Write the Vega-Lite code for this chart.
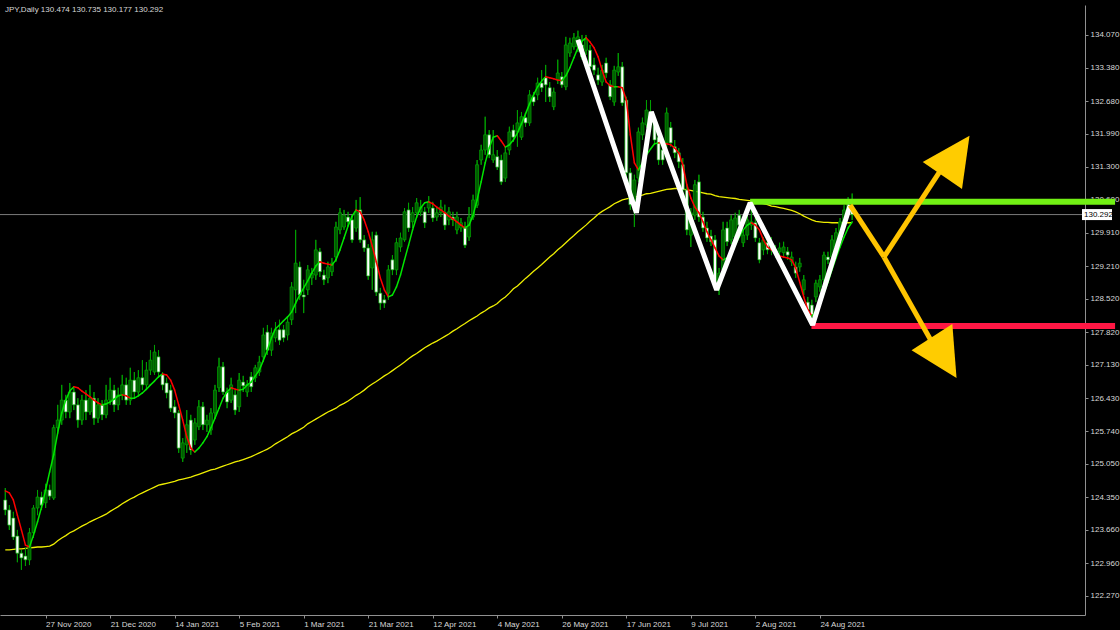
{
"$schema":"https://vega.github.io/schema/vega-lite/v6.json",
"width":1085,"height":610,
"autosize":{"type":"none"},
"padding":{"left":0,"top":5,"right":35,"bottom":15},
"background":"#000000",
"config":{"view":{"stroke":null},"axis":{"grid":false,"tickColor":"#909090","domainColor":"#909090","labelColor":"#d8d8d8","labelFont":"Liberation Sans","labelFontSize":8,"tickSize":3,"labelPadding":2,"labelOverlap":false,"labelFlush":false,"labelBound":false}},
"datasets":{
"bars":[
{"i":0,"o":124.29,"h":124.54,"l":123.97,"c":124.08,"m":124.48,"s":123.24},
{"i":1,"o":124.08,"h":124.18,"l":123.66,"c":123.76,"m":124.44,"s":123.24},
{"i":2,"o":123.91,"h":124.04,"l":123.45,"c":123.51,"m":124.29,"s":123.25},
{"i":3,"o":123.53,"h":123.66,"l":122.98,"c":123.17,"m":123.97,"s":123.26},
{"i":4,"o":123.17,"h":123.24,"l":122.82,"c":123.07,"m":123.66,"s":123.26},
{"i":5,"o":123.11,"h":123.28,"l":122.90,"c":123.03,"m":123.34,"s":123.27},
{"i":6,"o":123.03,"h":123.70,"l":122.92,"c":123.60,"m":123.30,"s":123.28},
{"i":7,"o":123.60,"h":124.18,"l":123.49,"c":124.12,"m":123.55,"s":123.29},
{"i":8,"o":124.12,"h":124.50,"l":123.97,"c":124.35,"m":123.83,"s":123.30},
{"i":9,"o":124.35,"h":124.46,"l":124.08,"c":124.18,"m":124.14,"s":123.30},
{"i":10,"o":124.23,"h":124.63,"l":124.12,"c":124.50,"m":124.50,"s":123.31},
{"i":11,"o":124.50,"h":124.61,"l":124.29,"c":124.37,"m":124.88,"s":123.32},
{"i":12,"o":124.33,"h":125.87,"l":124.29,"c":125.81,"m":125.24,"s":123.36},
{"i":13,"o":125.81,"h":126.29,"l":125.72,"c":125.97,"m":125.70,"s":123.43},
{"i":14,"o":125.97,"h":126.71,"l":125.87,"c":126.39,"m":126.12,"s":123.49},
{"i":15,"o":126.39,"h":126.50,"l":126.01,"c":126.14,"m":126.39,"s":123.54},
{"i":16,"o":126.14,"h":126.75,"l":126.01,"c":126.56,"m":126.58,"s":123.60},
{"i":17,"o":126.56,"h":126.65,"l":126.18,"c":126.29,"m":126.67,"s":123.64},
{"i":18,"o":126.29,"h":126.43,"l":125.81,"c":125.97,"m":126.65,"s":123.69},
{"i":19,"o":125.97,"h":126.50,"l":125.87,"c":126.39,"m":126.58,"s":123.74},
{"i":20,"o":126.39,"h":126.60,"l":125.97,"c":126.14,"m":126.52,"s":123.78},
{"i":21,"o":126.14,"h":126.71,"l":126.08,"c":126.43,"m":126.46,"s":123.83},
{"i":22,"o":126.43,"h":126.56,"l":125.87,"c":126.01,"m":126.39,"s":123.87},
{"i":23,"o":126.01,"h":126.43,"l":125.91,"c":126.29,"m":126.33,"s":123.91},
{"i":24,"o":126.29,"h":126.39,"l":125.97,"c":126.08,"m":126.29,"s":123.95},
{"i":25,"o":126.08,"h":126.71,"l":126.01,"c":126.39,"m":126.31,"s":123.99},
{"i":26,"o":126.39,"h":126.86,"l":126.29,"c":126.60,"m":126.35,"s":124.05},
{"i":27,"o":126.60,"h":126.71,"l":126.14,"c":126.29,"m":126.41,"s":124.10},
{"i":28,"o":126.29,"h":126.65,"l":126.18,"c":126.50,"m":126.48,"s":124.15},
{"i":29,"o":126.50,"h":126.92,"l":126.39,"c":126.71,"m":126.50,"s":124.21},
{"i":30,"o":126.71,"h":126.86,"l":126.29,"c":126.39,"m":126.48,"s":124.26},
{"i":31,"o":126.39,"h":127.07,"l":126.29,"c":126.81,"m":126.43,"s":124.31},
{"i":32,"o":126.81,"h":126.98,"l":126.43,"c":126.56,"m":126.43,"s":124.35},
{"i":33,"o":126.56,"h":127.02,"l":126.50,"c":126.86,"m":126.48,"s":124.40},
{"i":34,"o":126.86,"h":127.23,"l":126.60,"c":126.71,"m":126.54,"s":124.44},
{"i":35,"o":126.71,"h":127.19,"l":126.60,"c":127.02,"m":126.62,"s":124.48},
{"i":36,"o":127.02,"h":127.44,"l":126.92,"c":127.23,"m":126.71,"s":124.52},
{"i":37,"o":126.98,"h":127.55,"l":126.92,"c":127.40,"m":126.79,"s":124.56},
{"i":38,"o":127.30,"h":127.44,"l":126.86,"c":126.98,"m":126.88,"s":124.60},
{"i":39,"o":126.92,"h":126.98,"l":126.60,"c":126.71,"m":126.94,"s":124.62},
{"i":40,"o":126.75,"h":126.86,"l":126.43,"c":126.54,"m":126.92,"s":124.64},
{"i":41,"o":126.60,"h":126.71,"l":126.14,"c":126.22,"m":126.81,"s":124.66},
{"i":42,"o":126.25,"h":126.39,"l":126.01,"c":126.12,"m":126.60,"s":124.68},
{"i":43,"o":126.12,"h":126.18,"l":125.28,"c":125.38,"m":126.29,"s":124.71},
{"i":44,"o":125.17,"h":125.59,"l":125.09,"c":125.49,"m":125.97,"s":124.73},
{"i":45,"o":125.45,"h":126.18,"l":125.28,"c":125.87,"m":125.62,"s":124.75},
{"i":46,"o":125.97,"h":126.08,"l":125.24,"c":125.34,"m":125.38,"s":124.77},
{"i":47,"o":125.55,"h":126.01,"l":125.45,"c":125.91,"m":125.30,"s":124.80},
{"i":48,"o":125.83,"h":126.39,"l":125.76,"c":126.25,"m":125.38,"s":124.83},
{"i":49,"o":126.25,"h":126.35,"l":125.76,"c":125.87,"m":125.49,"s":124.86},
{"i":50,"o":125.87,"h":126.08,"l":125.72,"c":125.97,"m":125.62,"s":124.89},
{"i":51,"o":125.76,"h":126.22,"l":125.66,"c":126.12,"m":125.81,"s":124.92},
{"i":52,"o":126.12,"h":126.71,"l":126.01,"c":126.60,"m":126.01,"s":124.94},
{"i":53,"o":126.65,"h":127.28,"l":126.56,"c":127.09,"m":126.22,"s":124.97},
{"i":54,"o":127.09,"h":127.19,"l":126.50,"c":126.56,"m":126.43,"s":125.00},
{"i":55,"o":126.56,"h":126.65,"l":126.22,"c":126.35,"m":126.56,"s":125.03},
{"i":56,"o":126.39,"h":126.86,"l":126.33,"c":126.71,"m":126.65,"s":125.06},
{"i":57,"o":126.50,"h":126.60,"l":126.08,"c":126.18,"m":126.62,"s":125.09},
{"i":58,"o":126.25,"h":126.96,"l":126.14,"c":126.81,"m":126.60,"s":125.11},
{"i":59,"o":126.77,"h":126.90,"l":126.56,"c":126.69,"m":126.62,"s":125.14},
{"i":60,"o":126.56,"h":126.81,"l":126.46,"c":126.71,"m":126.71,"s":125.17},
{"i":61,"o":126.88,"h":126.98,"l":126.56,"c":126.67,"m":126.77,"s":125.20},
{"i":62,"o":126.86,"h":127.13,"l":126.77,"c":127.07,"m":126.90,"s":125.24},
{"i":63,"o":126.98,"h":127.32,"l":126.90,"c":127.19,"m":127.02,"s":125.28},
{"i":64,"o":127.30,"h":127.91,"l":127.19,"c":127.76,"m":127.23,"s":125.32},
{"i":65,"o":127.82,"h":127.97,"l":127.34,"c":127.44,"m":127.44,"s":125.36},
{"i":66,"o":127.44,"h":127.91,"l":127.32,"c":127.80,"m":127.70,"s":125.41},
{"i":67,"o":127.70,"h":128.03,"l":127.61,"c":127.87,"m":127.89,"s":125.47},
{"i":68,"o":127.87,"h":128.08,"l":127.55,"c":127.65,"m":127.97,"s":125.52},
{"i":69,"o":127.87,"h":127.97,"l":127.61,"c":127.70,"m":128.06,"s":125.57},
{"i":70,"o":127.76,"h":128.12,"l":127.65,"c":128.03,"m":128.14,"s":125.62},
{"i":71,"o":128.08,"h":128.87,"l":127.97,"c":128.77,"m":128.24,"s":125.68},
{"i":72,"o":128.71,"h":129.97,"l":128.22,"c":129.27,"m":128.43,"s":125.72},
{"i":73,"o":129.19,"h":129.30,"l":128.50,"c":128.60,"m":128.60,"s":125.77},
{"i":74,"o":128.60,"h":128.92,"l":128.22,"c":128.56,"m":128.75,"s":125.82},
{"i":75,"o":128.71,"h":129.23,"l":128.60,"c":129.13,"m":128.90,"s":125.89},
{"i":76,"o":128.96,"h":129.17,"l":128.81,"c":129.06,"m":129.06,"s":125.94},
{"i":77,"o":129.02,"h":129.76,"l":128.92,"c":129.55,"m":129.21,"s":125.99},
{"i":78,"o":129.51,"h":129.59,"l":128.98,"c":129.09,"m":129.30,"s":126.04},
{"i":79,"o":129.02,"h":129.13,"l":128.81,"c":128.92,"m":129.27,"s":126.09},
{"i":80,"o":128.96,"h":129.30,"l":128.85,"c":129.19,"m":129.25,"s":126.14},
{"i":81,"o":129.09,"h":129.38,"l":129.00,"c":129.27,"m":129.23,"s":126.18},
{"i":82,"o":129.40,"h":130.14,"l":129.30,"c":130.03,"m":129.34,"s":126.22},
{"i":83,"o":129.97,"h":130.43,"l":129.88,"c":130.33,"m":129.55,"s":126.28},
{"i":84,"o":130.03,"h":130.39,"l":129.97,"c":130.28,"m":129.80,"s":126.32},
{"i":85,"o":130.24,"h":130.35,"l":130.05,"c":130.14,"m":130.05,"s":126.37},
{"i":86,"o":130.18,"h":130.28,"l":129.70,"c":129.76,"m":130.26,"s":126.43},
{"i":87,"o":130.01,"h":130.60,"l":129.93,"c":130.35,"m":130.39,"s":126.49},
{"i":88,"o":130.39,"h":130.66,"l":129.70,"c":129.76,"m":130.35,"s":126.54},
{"i":89,"o":129.76,"h":129.86,"l":129.51,"c":129.59,"m":130.18,"s":126.60},
{"i":90,"o":129.59,"h":129.67,"l":128.92,"c":129.00,"m":129.93,"s":126.67},
{"i":91,"o":129.17,"h":129.93,"l":128.71,"c":129.76,"m":129.63,"s":126.73},
{"i":92,"o":129.86,"h":129.93,"l":128.58,"c":128.66,"m":129.30,"s":126.78},
{"i":93,"o":128.64,"h":128.75,"l":128.29,"c":128.43,"m":128.96,"s":126.84},
{"i":94,"o":128.50,"h":128.60,"l":128.33,"c":128.43,"m":128.71,"s":126.90},
{"i":95,"o":128.64,"h":129.23,"l":128.50,"c":129.13,"m":128.56,"s":126.95},
{"i":96,"o":129.34,"h":129.44,"l":129.02,"c":129.13,"m":128.60,"s":127.01},
{"i":97,"o":129.13,"h":129.80,"l":129.02,"c":129.70,"m":128.77,"s":127.07},
{"i":98,"o":129.61,"h":129.91,"l":129.51,"c":129.80,"m":129.02,"s":127.13},
{"i":99,"o":129.76,"h":130.43,"l":129.72,"c":130.35,"m":129.34,"s":127.19},
{"i":100,"o":130.39,"h":130.54,"l":129.93,"c":130.01,"m":129.65,"s":127.26},
{"i":101,"o":130.14,"h":130.45,"l":130.01,"c":130.33,"m":129.97,"s":127.32},
{"i":102,"o":130.33,"h":130.64,"l":130.22,"c":130.54,"m":130.24,"s":127.37},
{"i":103,"o":130.35,"h":130.60,"l":130.26,"c":130.45,"m":130.43,"s":127.43},
{"i":104,"o":130.35,"h":130.45,"l":130.01,"c":130.12,"m":130.54,"s":127.49},
{"i":105,"o":130.43,"h":130.68,"l":130.33,"c":130.56,"m":130.56,"s":127.54},
{"i":106,"o":130.43,"h":130.56,"l":130.14,"c":130.22,"m":130.52,"s":127.59},
{"i":107,"o":130.24,"h":130.43,"l":130.16,"c":130.33,"m":130.45,"s":127.63},
{"i":108,"o":130.33,"h":130.60,"l":130.24,"c":130.45,"m":130.39,"s":127.68},
{"i":109,"o":130.33,"h":130.50,"l":129.97,"c":130.07,"m":130.33,"s":127.73},
{"i":110,"o":130.18,"h":130.45,"l":130.07,"c":130.35,"m":130.26,"s":127.78},
{"i":111,"o":130.24,"h":130.35,"l":130.05,"c":130.18,"m":130.20,"s":127.84},
{"i":112,"o":129.97,"h":130.35,"l":129.88,"c":130.24,"m":130.14,"s":127.89},
{"i":113,"o":130.01,"h":130.22,"l":129.93,"c":130.12,"m":130.07,"s":127.95},
{"i":114,"o":130.03,"h":130.14,"l":129.59,"c":129.65,"m":130.01,"s":128.00},
{"i":115,"o":129.82,"h":130.45,"l":129.74,"c":130.24,"m":130.07,"s":128.06},
{"i":116,"o":130.24,"h":130.71,"l":130.18,"c":130.60,"m":130.28,"s":128.11},
{"i":117,"o":130.49,"h":131.44,"l":130.43,"c":131.34,"m":130.60,"s":128.16},
{"i":118,"o":131.44,"h":131.76,"l":131.34,"c":131.65,"m":130.98,"s":128.22},
{"i":119,"o":131.65,"h":132.35,"l":131.55,"c":131.97,"m":131.38,"s":128.27},
{"i":120,"o":131.97,"h":132.07,"l":131.48,"c":131.55,"m":131.69,"s":128.33},
{"i":121,"o":131.44,"h":132.07,"l":131.38,"c":131.55,"m":131.92,"s":128.37},
{"i":122,"o":131.51,"h":131.65,"l":131.23,"c":131.29,"m":131.95,"s":128.42},
{"i":123,"o":131.44,"h":131.55,"l":130.92,"c":130.98,"m":131.84,"s":128.50},
{"i":124,"o":131.06,"h":131.69,"l":130.98,"c":131.59,"m":131.71,"s":128.56},
{"i":125,"o":131.65,"h":132.14,"l":131.55,"c":132.03,"m":131.76,"s":128.64},
{"i":126,"o":132.07,"h":132.18,"l":131.82,"c":131.92,"m":131.86,"s":128.73},
{"i":127,"o":132.03,"h":132.49,"l":131.72,"c":132.22,"m":132.01,"s":128.79},
{"i":128,"o":131.92,"h":132.45,"l":131.86,"c":132.35,"m":132.20,"s":128.87},
{"i":129,"o":132.33,"h":132.43,"l":132.14,"c":132.22,"m":132.41,"s":128.95},
{"i":130,"o":132.22,"h":132.91,"l":132.16,"c":132.81,"m":132.62,"s":129.02},
{"i":131,"o":132.77,"h":132.87,"l":132.58,"c":132.66,"m":132.81,"s":129.10},
{"i":132,"o":132.81,"h":133.17,"l":132.70,"c":133.06,"m":132.98,"s":129.17},
{"i":133,"o":133.06,"h":133.33,"l":132.87,"c":132.96,"m":133.10,"s":129.24},
{"i":134,"o":133.17,"h":133.44,"l":132.66,"c":133.02,"m":133.19,"s":129.32},
{"i":135,"o":132.96,"h":133.08,"l":132.66,"c":132.77,"m":133.17,"s":129.40},
{"i":136,"o":132.56,"h":132.96,"l":132.49,"c":132.87,"m":133.15,"s":129.47},
{"i":137,"o":133.12,"h":133.55,"l":133.04,"c":133.27,"m":133.12,"s":129.55},
{"i":138,"o":133.19,"h":133.29,"l":132.96,"c":133.02,"m":133.11,"s":129.62},
{"i":139,"o":132.98,"h":134.03,"l":132.91,"c":133.86,"m":133.21,"s":129.70},
{"i":140,"o":133.69,"h":134.01,"l":133.61,"c":133.90,"m":133.38,"s":129.78},
{"i":141,"o":133.82,"h":134.11,"l":133.76,"c":134.01,"m":133.59,"s":129.85},
{"i":142,"o":133.82,"h":134.16,"l":133.71,"c":134.03,"m":133.80,"s":129.93},
{"i":143,"o":133.86,"h":134.07,"l":133.55,"c":133.61,"m":133.94,"s":130.00},
{"i":144,"o":133.75,"h":134.07,"l":133.65,"c":133.97,"m":134.01,"s":130.07},
{"i":145,"o":133.75,"h":133.86,"l":133.33,"c":133.40,"m":133.92,"s":130.15},
{"i":146,"o":133.44,"h":133.59,"l":133.23,"c":133.33,"m":133.80,"s":130.22},
{"i":147,"o":133.23,"h":133.38,"l":133.02,"c":133.12,"m":133.61,"s":130.30},
{"i":148,"o":133.08,"h":133.44,"l":133.00,"c":133.33,"m":133.33,"s":130.36},
{"i":149,"o":133.48,"h":133.59,"l":133.17,"c":133.27,"m":133.08,"s":130.41},
{"i":150,"o":133.02,"h":133.12,"l":132.70,"c":132.77,"m":133.00,"s":130.46},
{"i":151,"o":132.66,"h":133.42,"l":132.58,"c":133.33,"m":132.98,"s":130.52},
{"i":152,"o":133.29,"h":133.69,"l":133.21,"c":133.40,"m":132.98,"s":130.56},
{"i":153,"o":133.40,"h":133.50,"l":132.58,"c":132.64,"m":132.96,"s":130.60},
{"i":154,"o":132.70,"h":132.77,"l":131.06,"c":131.17,"m":132.70,"s":130.62},
{"i":155,"o":131.17,"h":131.27,"l":130.39,"c":130.50,"m":131.97,"s":130.64},
{"i":156,"o":130.39,"h":131.13,"l":130.03,"c":131.02,"m":131.38,"s":130.66},
{"i":157,"o":131.06,"h":132.12,"l":130.98,"c":132.03,"m":131.23,"s":130.68},
{"i":158,"o":131.97,"h":132.33,"l":131.86,"c":132.22,"m":131.38,"s":130.70},
{"i":159,"o":132.18,"h":132.70,"l":132.12,"c":132.49,"m":131.55,"s":130.73},
{"i":160,"o":132.45,"h":132.70,"l":132.12,"c":132.22,"m":131.67,"s":130.74},
{"i":161,"o":132.22,"h":132.33,"l":131.76,"c":131.86,"m":131.78,"s":130.76},
{"i":162,"o":131.92,"h":132.03,"l":131.34,"c":131.44,"m":131.80,"s":130.78},
{"i":163,"o":131.65,"h":131.76,"l":131.34,"c":131.44,"m":131.79,"s":130.80},
{"i":164,"o":131.80,"h":132.54,"l":131.69,"c":132.43,"m":131.78,"s":130.82},
{"i":165,"o":132.12,"h":132.24,"l":131.72,"c":131.80,"m":131.76,"s":130.83},
{"i":166,"o":131.72,"h":131.86,"l":131.48,"c":131.59,"m":131.69,"s":130.84},
{"i":167,"o":131.59,"h":131.69,"l":131.27,"c":131.40,"m":131.59,"s":130.84},
{"i":168,"o":131.34,"h":131.48,"l":130.71,"c":130.81,"m":131.34,"s":130.83},
{"i":169,"o":130.81,"h":130.92,"l":129.86,"c":129.97,"m":130.92,"s":130.81},
{"i":170,"o":129.86,"h":130.43,"l":129.61,"c":130.33,"m":130.64,"s":130.80},
{"i":171,"o":130.28,"h":131.02,"l":130.18,"c":130.92,"m":130.45,"s":130.78},
{"i":172,"o":130.98,"h":131.13,"l":130.14,"c":130.24,"m":130.33,"s":130.77},
{"i":173,"o":130.24,"h":130.35,"l":129.93,"c":130.01,"m":130.14,"s":130.75},
{"i":174,"o":130.01,"h":130.14,"l":129.72,"c":129.80,"m":129.93,"s":130.73},
{"i":175,"o":129.84,"h":129.97,"l":129.63,"c":129.72,"m":129.76,"s":130.72},
{"i":176,"o":129.76,"h":129.86,"l":128.77,"c":128.88,"m":129.59,"s":130.69},
{"i":177,"o":128.81,"h":129.17,"l":128.60,"c":129.06,"m":129.42,"s":130.67},
{"i":178,"o":129.13,"h":130.14,"l":129.06,"c":129.97,"m":129.34,"s":130.66},
{"i":179,"o":130.01,"h":130.14,"l":129.63,"c":129.72,"m":129.38,"s":130.65},
{"i":180,"o":129.76,"h":130.28,"l":129.67,"c":130.18,"m":129.50,"s":130.64},
{"i":181,"o":129.82,"h":130.33,"l":129.76,"c":130.22,"m":129.65,"s":130.63},
{"i":182,"o":130.28,"h":130.39,"l":130.01,"c":130.07,"m":129.82,"s":130.61},
{"i":183,"o":129.70,"h":129.97,"l":129.61,"c":129.86,"m":129.97,"s":130.60},
{"i":184,"o":129.86,"h":130.28,"l":129.76,"c":130.18,"m":130.07,"s":130.59},
{"i":185,"o":130.07,"h":130.49,"l":129.97,"c":130.14,"m":130.12,"s":130.58},
{"i":186,"o":130.12,"h":130.22,"l":129.72,"c":129.80,"m":130.07,"s":130.56},
{"i":187,"o":129.70,"h":129.80,"l":129.27,"c":129.34,"m":129.97,"s":130.54},
{"i":188,"o":129.55,"h":129.82,"l":129.44,"c":129.76,"m":129.76,"s":130.52},
{"i":189,"o":129.70,"h":129.80,"l":129.46,"c":129.55,"m":129.61,"s":130.50},
{"i":190,"o":129.55,"h":129.82,"l":129.44,"c":129.65,"m":129.55,"s":130.47},
{"i":191,"o":129.55,"h":129.65,"l":129.38,"c":129.49,"m":129.49,"s":130.46},
{"i":192,"o":129.51,"h":129.70,"l":129.40,"c":129.59,"m":129.42,"s":130.44},
{"i":193,"o":129.49,"h":129.72,"l":129.38,"c":129.61,"m":129.40,"s":130.42},
{"i":194,"o":129.51,"h":129.61,"l":129.34,"c":129.44,"m":129.38,"s":130.40},
{"i":195,"o":129.30,"h":129.51,"l":129.21,"c":129.40,"m":129.34,"s":130.38},
{"i":196,"o":129.19,"h":129.30,"l":128.96,"c":129.06,"m":129.17,"s":130.35},
{"i":197,"o":129.19,"h":129.38,"l":129.09,"c":129.27,"m":128.87,"s":130.31},
{"i":198,"o":128.71,"h":129.02,"l":128.60,"c":128.92,"m":128.56,"s":130.26},
{"i":199,"o":128.45,"h":128.56,"l":128.20,"c":128.29,"m":128.29,"s":130.22},
{"i":200,"o":128.39,"h":128.50,"l":127.99,"c":128.18,"m":128.16,"s":130.18},
{"i":201,"o":128.56,"h":128.92,"l":128.45,"c":128.85,"m":128.24,"s":130.15},
{"i":202,"o":128.77,"h":129.02,"l":128.67,"c":128.92,"m":128.39,"s":130.14},
{"i":203,"o":128.92,"h":129.51,"l":128.83,"c":129.44,"m":128.64,"s":130.13},
{"i":204,"o":129.40,"h":129.51,"l":129.25,"c":129.34,"m":128.87,"s":130.13},
{"i":205,"o":129.40,"h":129.86,"l":129.30,"c":129.76,"m":129.13,"s":130.12},
{"i":206,"o":129.61,"h":130.01,"l":129.55,"c":129.91,"m":129.38,"s":130.12},
{"i":207,"o":129.86,"h":130.22,"l":129.80,"c":130.14,"m":129.61,"s":130.12},
{"i":208,"o":130.12,"h":130.49,"l":130.05,"c":130.39,"m":129.82,"s":130.12},
{"i":209,"o":130.33,"h":130.66,"l":130.26,"c":130.54,"m":130.01,"s":130.12},
{"i":210,"o":130.474,"h":130.735,"l":130.177,"c":130.292,"m":130.14,"s":130.12}
],
"zig":[
{"k":1,"i":142,"p":133.97},{"k":2,"i":156.5,"p":130.33},{"k":3,"i":160.2,"p":132.45},{"k":4,"i":176.4,"p":128.71},{"k":5,"i":184.7,"p":130.54},{"k":6,"i":200.2,"p":127.97},{"k":7,"i":209.5,"p":130.49}
],
"arrows":[
{"i":209.5,"p":130.49,"i2":217.9,"p2":129.40},
{"i":217.9,"p":129.40,"i2":233.3,"p2":131.40},
{"i":217.9,"p":129.40,"i2":230.9,"p2":127.44}
],
"levels":[
{"k":"res","a":184.7,"b":275.2,"p":130.56},
{"k":"sup","a":199.9,"b":275.2,"p":127.95}
]
},
"layer":[
{"data":{"name":"bars"},
 "mark":{"type":"rule","color":"#00a000","strokeWidth":1},
 "encoding":{
  "x":{"field":"i","type":"quantitative","title":null,"scale":{"domain":[-0.07,266.5],"nice":false,"zero":false},
   "axis":{"title":null,"orient":"bottom","tickCount":40,"values":[10,26,42,58,74,90,106,122,138,154,170,186,202],
    "labelExpr":"['27 Nov 2020','21 Dec 2020','14 Jan 2021','5 Feb 2021','1 Mar 2021','21 Mar 2021','12 Apr 2021','4 May 2021','26 May 2021','17 Jun 2021','9 Jul 2021','2 Aug 2021','24 Aug 2021'][(datum.value-10)/16]",
    "labelAlign":"left","labelFlush":false,"labelOverlap":false,"labelBound":false}},
  "y":{"field":"l","type":"quantitative","title":null,"scale":{"domain":[121.87,134.70],"nice":false,"zero":false},
   "axis":{"title":null,"orient":"right","tickCount":40,"values":[122.27,122.96,123.66,124.35,125.05,125.74,126.43,127.13,127.82,128.52,129.21,129.91,130.6,131.3,131.99,132.68,133.38,134.07],
    "format":".3f","labelOverlap":false,"labelFlush":false,"labelBound":false}},
  "y2":{"field":"h"}}},
{"data":{"values":[{}]},
 "mark":{"type":"rule","color":"#7a7a7a","strokeWidth":1},
 "encoding":{"y":{"datum":130.292,"type":"quantitative","title":null}}},
{"data":{"name":"bars"},
 "mark":{"type":"line","color":"#eeee00","strokeWidth":1.3},
 "encoding":{"x":{"field":"i","type":"quantitative","title":null},"y":{"field":"s","type":"quantitative","title":null}}},
{"data":{"name":"bars"},
 "mark":{"type":"rule","color":"#00a000","strokeWidth":1},
 "encoding":{"x":{"field":"i","type":"quantitative","title":null},"y":{"field":"l","type":"quantitative","title":null},"y2":{"field":"h"}}},
{"data":{"name":"bars"},
 "mark":{"type":"bar","width":3,"strokeWidth":0.7},
 "encoding":{
  "x":{"field":"i","type":"quantitative","title":null},
  "y":{"field":"o","type":"quantitative","title":null},
  "y2":{"field":"c"},
  "fill":{"condition":{"test":"datum.c >= datum.o","value":"#005c00"},"value":"#ffffff"},
  "stroke":{"value":"#00a800"}}},
{"data":{"name":"bars"},
 "transform":[{"window":[{"op":"lead","field":"m","as":"m2"},{"op":"lead","field":"i","as":"i2"}],"sort":[{"field":"i"}]},{"filter":"isValid(datum.m2)"}],
 "mark":{"type":"rule","strokeWidth":1.5,"strokeCap":"round"},
 "encoding":{
  "x":{"field":"i","type":"quantitative","title":null},"x2":{"field":"i2"},
  "y":{"field":"m","type":"quantitative","title":null},"y2":{"field":"m2"},
  "color":{"condition":{"test":"datum.m2 >= datum.m","value":"#00e600"},"value":"#ff0000"}}},
{"data":{"name":"levels"},
 "mark":{"type":"rule","strokeWidth":6},
 "encoding":{
  "x":{"field":"a","type":"quantitative","title":null},"x2":{"field":"b"},
  "y":{"field":"p","type":"quantitative","title":null},
  "color":{"condition":{"test":"datum.k == 'res'","value":"#72f014"},"value":"#ff1744"}}},
{"data":{"name":"zig"},
 "mark":{"type":"line","color":"#ffffff","strokeWidth":5,"strokeJoin":"bevel"},
 "encoding":{
  "x":{"field":"i","type":"quantitative","title":null},
  "y":{"field":"p","type":"quantitative","title":null},
  "order":{"field":"k"}}},
{"data":{"name":"arrows"},
 "mark":{"type":"rule","color":"#ffc400","strokeWidth":5},
 "encoding":{
  "x":{"field":"i","type":"quantitative","title":null},"x2":{"field":"i2"},
  "y":{"field":"p","type":"quantitative","title":null},"y2":{"field":"p2"}}},
{"data":{"values":[{}]},
 "mark":{"type":"point","shape":"M-0.78,0L0.78,-0.87L0.53,0.9Z","size":3600,"filled":true,"color":"#ffcc00","opacity":1,"strokeWidth":0},
 "encoding":{"x":{"datum":233.3,"type":"quantitative","title":null},"y":{"datum":131.40,"type":"quantitative","title":null}}},
{"data":{"values":[{}]},
 "mark":{"type":"point","shape":"M-0.83,0L0.53,-0.87L0.67,0.93Z","size":3600,"filled":true,"color":"#ffcc00","opacity":1,"strokeWidth":0},
 "encoding":{"x":{"datum":230.9,"type":"quantitative","title":null},"y":{"datum":127.44,"type":"quantitative","title":null}}},
{"data":{"values":[{}]},
 "mark":{"type":"point","shape":"M0.2,-0.55L3.2,-0.55L3.2,0.55L0.2,0.55Z","size":400,"filled":true,"color":"#ffffff","opacity":1,"strokeWidth":0},
 "encoding":{"x":{"datum":266.5,"type":"quantitative","title":null},"y":{"datum":130.292,"type":"quantitative","title":null}}},
{"data":{"values":[{}]},
 "mark":{"type":"text","align":"left","baseline":"middle","dx":4,"font":"Liberation Sans","fontSize":8,"color":"#000000"},
 "encoding":{"x":{"datum":266.5,"type":"quantitative","title":null},"y":{"datum":130.292,"type":"quantitative","title":null},"text":{"value":"130.292"}}},
{"data":{"values":[{}]},
 "mark":{"type":"text","align":"left","baseline":"top","dy":1,"font":"Liberation Sans","fontSize":8,"color":"#d8d8d8"},
 "encoding":{"x":{"datum":-0.07,"type":"quantitative","title":null},"y":{"datum":134.70,"type":"quantitative","title":null},"text":{"value":"JPY,Daily  130.474 130.735 130.177 130.292"}}}
]
}
